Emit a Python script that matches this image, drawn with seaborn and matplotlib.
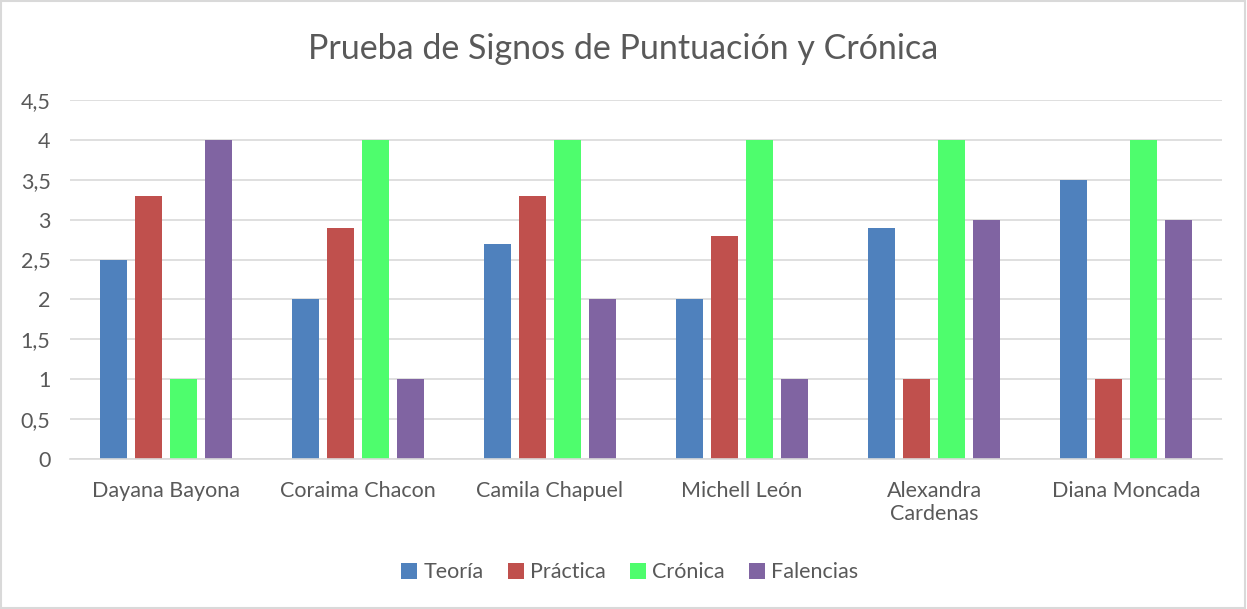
import matplotlib
matplotlib.use("Agg")
import matplotlib.pyplot as plt
import seaborn as sns
import pandas as pd
from matplotlib.patches import Rectangle

# data
students = ["Dayana Bayona", "Coraima Chacon", "Camila Chapuel", "Michell León",
            "Alexandra\nCardenas", "Diana Moncada"]
teoria = [2.5, 2.0, 2.7, 2.0, 2.9, 3.5]
practica = [3.3, 2.9, 3.3, 2.8, 1.0, 1.0]
cronica = [1.0, 4.0, 4.0, 4.0, 4.0, 4.0]
falencias = [4.0, 1.0, 2.0, 1.0, 3.0, 3.0]
series = ["Teoría", "Práctica", "Crónica", "Falencias"]
colors = ["#4F81BD", "#C0504D", "#4EFD6D", "#8064A2"]
yticks = [0, 0.5, 1, 1.5, 2, 2.5, 3, 3.5, 4, 4.5]

rows = []
for name, vals in zip(series, [teoria, practica, cronica, falencias]):
    for s, v in zip(students, vals):
        rows.append({"Estudiante": s, "Serie": name, "Valor": v})
df = pd.DataFrame(rows)

sns.set_style("white")
plt.rcParams["font.family"] = ["Lato", "DejaVu Sans"]
text_col = "#595959"

fig = plt.figure(figsize=(12.47, 6.09), dpi=100)
ax = fig.add_axes([0.0561, 0.2463, 0.9239, 0.5895])

sns.barplot(data=df, x="Estudiante", y="Valor", hue="Serie", order=students,
            hue_order=series, palette=colors, width=0.73, gap=0.23,
            saturation=1, linewidth=0, ax=ax, legend=True)

ax.set_ylim(0, 4.5)
ax.set_xlim(-0.5, len(students) - 0.5)
ax.set_yticks(yticks)
ax.set_yticklabels([f"{t:g}".replace(".", ",") for t in yticks])
ax.yaxis.grid(True, color="#D9D9D9", linewidth=1.2)
ax.set_axisbelow(True)
for sp in ["top", "right", "left"]:
    ax.spines[sp].set_visible(False)
ax.spines["bottom"].set_color("#D9D9D9")
ax.spines["bottom"].set_linewidth(1.2)
ax.tick_params(axis="both", length=0, colors=text_col, labelsize=15.5)
ax.tick_params(axis="x", pad=16)
ax.tick_params(axis="y", pad=14)
for lab in ax.get_xticklabels():
    lab.set_linespacing(1.15)
ax.set_xlabel("")
ax.set_ylabel("")

fig.suptitle("Prueba de Signos de Puntuación y Crónica", y=0.945,
             fontsize=24.5, color=text_col)

handles, labels = ax.get_legend_handles_labels()
ax.legend_.remove()
fig.legend(handles, labels, loc="center", bbox_to_anchor=(0.505, 0.06),
           ncol=4, frameon=False, fontsize=15.5, labelcolor=text_col,
           handlelength=0.75, handleheight=0.75, handletextpad=0.3,
           columnspacing=1.1)

fig.patches.append(Rectangle((0.001, 0.001), 0.997, 0.997, transform=fig.transFigure,
                             fill=False, edgecolor="#D9D9D9", linewidth=1.5))

fig.savefig("out.png", dpi=100, facecolor="white")
